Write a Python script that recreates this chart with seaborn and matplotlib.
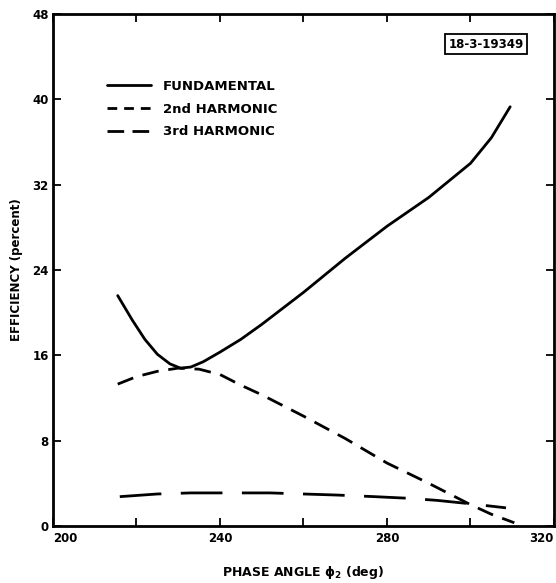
import numpy as np
import pandas as pd
import seaborn as sns
import matplotlib.pyplot as plt
from matplotlib.ticker import MultipleLocator

# --- data ---
fund_x = [215.5, 219, 222, 225, 228, 230.5, 233, 236, 240, 245, 250, 255, 260, 270, 280, 290, 300, 305, 309.5]
fund_y = [21.6, 19.3, 17.5, 16.1, 15.2, 14.8, 14.9, 15.4, 16.3, 17.5, 18.9, 20.4, 21.9, 25.1, 28.1, 30.8, 34.0, 36.4, 39.3]

h2_x = [215.5, 220, 225, 230, 235, 240, 245, 250, 255, 260, 270, 280, 290, 300, 305, 310.5]
h2_y = [13.3, 14.0, 14.5, 14.8, 14.7, 14.2, 13.2, 12.3, 11.3, 10.3, 8.2, 5.9, 4.0, 2.0, 1.1, 0.3]

h3_x = [216, 225, 233, 245, 252, 260, 268, 277, 285, 292, 299.5, 304, 308.5]
h3_y = [2.75, 3.0, 3.1, 3.1, 3.1, 3.0, 2.9, 2.75, 2.6, 2.4, 2.1, 1.9, 1.7]

series_names = ["FUNDAMENTAL", "2nd HARMONIC", "3rd HARMONIC"]
x_tick_labels = ["200", "240", "280", "320"]

df = pd.concat(
    [
        pd.DataFrame({"phase": fund_x, "eff": fund_y, "series": series_names[0]}),
        pd.DataFrame({"phase": h2_x, "eff": h2_y, "series": series_names[1]}),
        pd.DataFrame({"phase": h3_x, "eff": h3_y, "series": series_names[2]}),
    ],
    ignore_index=True,
)

sns.set_theme(style="ticks")
plt.rcParams["font.family"] = ["DejaVu Sans"]
plt.rcParams["font.weight"] = "bold"
for key in ["text.color", "axes.labelcolor", "xtick.color", "ytick.color", "axes.edgecolor"]:
    plt.rcParams[key] = "black"

fig = plt.figure(figsize=(5.56, 5.83), dpi=100)
ax = fig.add_axes([0.0953, 0.0978, 0.9011, 0.8782])

dash_styles = {
    series_names[0]: "",
    series_names[1]: (6, 3.5),
    series_names[2]: (15, 7),
}
sns.lineplot(
    data=df,
    x="phase",
    y="eff",
    hue="series",
    style="series",
    palette=["black"] * 3,
    dashes=dash_styles,
    linewidth=2.0,
    sort=False,
    legend=False,
    ax=ax,
)

# legend, built by hand so handle lengths match
handles = [
    plt.Line2D([], [], color="black", lw=2.0, dashes=(3.5, 2.5)),
    plt.Line2D([], [], color="black", lw=2.0, dashes=(6, 3)),
]
handles.insert(0, plt.Line2D([], [], color="black", lw=2.0))
leg = ax.legend(
    handles,
    series_names,
    loc="upper left",
    bbox_to_anchor=(0.085, 0.895),
    frameon=False,
    handlelength=3.3,
    handletextpad=0.9,
    labelspacing=0.75,
    prop={"size": 9.5, "weight": "bold"},
)

ax.set_xlim(200, 320)
ax.set_ylim(0, 48)
ax.xaxis.set_minor_locator(MultipleLocator(20))
ax.yaxis.set_major_locator(MultipleLocator(8))
ax.set_xticks([200, 240, 280, 320], labels=x_tick_labels)
ax.tick_params(which="both", direction="in", top=True, right=True, width=1.3, labelsize=8.5, length=6)
ax.tick_params(axis="y", pad=3)
ax.tick_params(axis="x", pad=4)
for lbl in ax.get_xticklabels() + ax.get_yticklabels():
    lbl.set_fontweight("bold")
xl = ax.get_xticklabels()
xl[0].set_ha("left")
xl[-1].set_ha("right")
for s in ax.spines.values():
    s.set_linewidth(2)

ax.set_xlabel("PHASE ANGLE $\\mathbf{\\phi_2}$ (deg)", fontsize=9, fontweight="bold", labelpad=14)
ax.set_ylabel("EFFICIENCY (percent)", fontsize=8.5, fontweight="bold", labelpad=7)

ax.text(
    0.864, 0.941, "18-3-19349",
    transform=ax.transAxes, ha="center", va="center",
    fontsize=8.5, fontweight="bold",
    bbox=dict(boxstyle="square,pad=0.3", facecolor="white", edgecolor="black", lw=1.3),
)

fig.savefig("out.png", dpi=100)
